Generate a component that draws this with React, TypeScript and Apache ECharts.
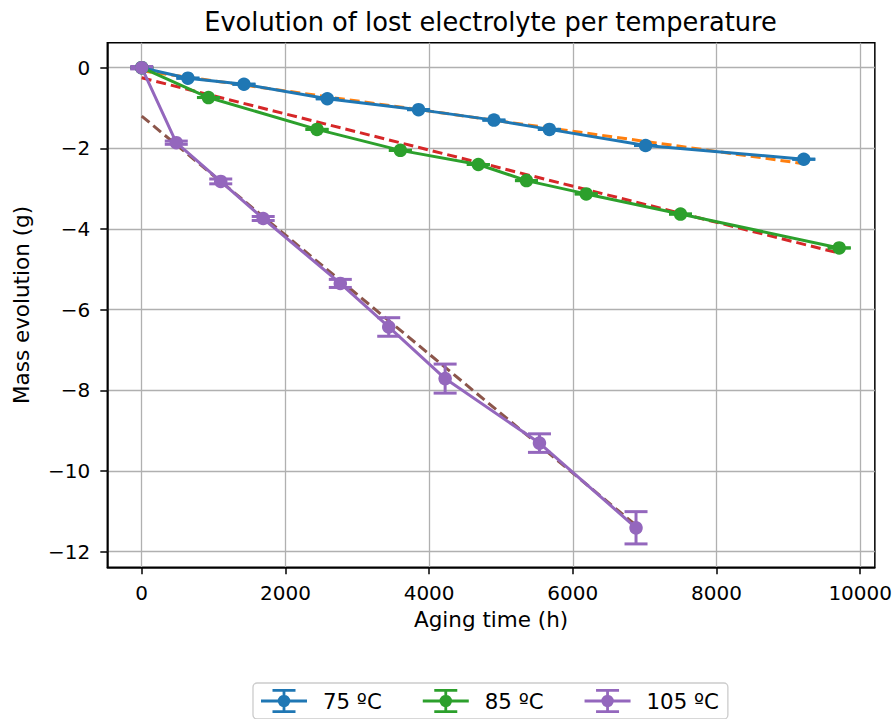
import React, { useEffect, useRef } from "react";
import * as echarts from "echarts";

// ---- data ----
const seriesNames = ["75 ºC", "85 ºC", "105 ºC"];

const x75 = [0, 643, 1423, 2583, 3853, 4902, 5674, 7013, 9215];
const y75 = [0, -0.26, -0.41, -0.77, -1.04, -1.3, -1.53, -1.93, -2.27];
const err75 = [0, 0, 0, 0, 0, 0, 0, 0, 0];

const x85 = [0, 929, 2440, 3600, 4685, 5355, 6187, 7499, 9708];
const y85 = [0, -0.74, -1.53, -2.05, -2.4, -2.8, -3.13, -3.63, -4.47];
const err85 = [0, 0, 0, 0, 0, 0, 0, 0, 0];

const x105 = [0, 481, 1100, 1691, 2764, 3438, 4223, 5536, 6880];
const y105 = [0, -1.86, -2.82, -3.74, -5.35, -6.43, -7.71, -9.31, -11.41];
const err105 = [0.03, 0.04, 0.06, 0.05, 0.1, 0.23, 0.36, 0.23, 0.4];

// linear fits (endpoints)
const fit75X = [0, 9215];
const fit75Y = [-0.076, -2.38];
const fit85X = [0, 9708];
const fit85Y = [-0.25, -4.6];
const fit105X = [0, 6880];
const fit105Y = [-1.2, -11.35];

const xTicks = [0, 2000, 4000, 6000, 8000, 10000];
const yTicks = [-12, -10, -8, -6, -4, -2, 0];

const titleText = "Evolution of lost electrolyte per temperature";
const xName = "Aging time (h)";
const yName = "Mass evolution (g)";

// ---- styling ----
const C_BLUE = "#1f77b4";
const C_ORANGE = "#ff7f0e";
const C_GREEN = "#2ca02c";
const C_RED = "#d62728";
const C_PURPLE = "#9467bd";
const C_BROWN = "#8c564b";
const FONT = "DejaVu Sans";
const LW = 3;

const legendIcon =
  "path://M0 10.6H46V13.4H0Z M21.6 0H24.4V24H21.6Z M11.5 0H34.5V2.8H11.5Z M11.5 21.2H34.5V24H11.5Z M16.8 12A6.2 6.2 0 1 1 29.2 12A6.2 6.2 0 1 1 16.8 12Z";

const pairs = (xs: number[], ys: number[]) => xs.map((x, i) => [x, ys[i]]);
const triples = (xs: number[], ys: number[], es: number[]) =>
  xs.map((x, i) => [x, ys[i], es[i]]);

const minusFmt = (v: number) => String(v).replace("-", "\u2212");

function errorSeries(name: string, color: string, data: number[][]) {
  return {
    type: "custom",
    name,
    data,
    encode: { x: 0, y: 1 },
    z: 3,
    itemStyle: { color },
    renderItem: (params: any, api: any) => {
      const x = api.value(0);
      const y = api.value(1);
      const e = api.value(2);
      const top = api.coord([x, y + e]);
      const bot = api.coord([x, y - e]);
      const hw = 11.5;
      const st = { stroke: color, lineWidth: LW, fill: null };
      return {
        type: "group",
        children: [
          { type: "line", shape: { x1: top[0], y1: top[1], x2: bot[0], y2: bot[1] }, style: st },
          { type: "line", shape: { x1: top[0] - hw, y1: top[1], x2: top[0] + hw, y2: top[1] }, style: st },
          { type: "line", shape: { x1: bot[0] - hw, y1: bot[1], x2: bot[0] + hw, y2: bot[1] }, style: st },
        ],
      };
    },
  };
}

function lineSeries(name: string, color: string, data: number[][]) {
  return {
    type: "line",
    name,
    data,
    symbol: "circle",
    symbolSize: 13.5,
    showSymbol: true,
    z: 3,
    lineStyle: { color, width: LW },
    itemStyle: { color },
    emphasis: { disabled: true },
  };
}

function fitSeries(name: string, color: string, data: number[][]) {
  return {
    type: "line",
    name,
    data,
    showSymbol: false,
    symbol: "none",
    z: 2,
    lineStyle: { color, width: LW, type: [10, 5] },
    itemStyle: { color },
    emphasis: { disabled: true },
  };
}

export default function App() {
  const ref = useRef<HTMLDivElement>(null);
  useEffect(() => {
    if (!ref.current) return;
    const chart = echarts.init(ref.current, null, { renderer: "svg" });
    chart.setOption({
      animation: false,
      backgroundColor: "#ffffff",
      textStyle: { fontFamily: FONT },
      graphic: [
        {
          type: "text",
          x: 490.5,
          y: 21.5,
          style: {
            text: titleText,
            fontSize: 25.7,
            fontFamily: FONT,
            fill: "#000",
            textAlign: "center",
            textVerticalAlign: "middle",
          },
        },
      ],
      grid: {
        left: 107.3,
        right: 18.3,
        top: 42.7,
        bottom: 151.7,
        show: true,
        borderColor: "#000",
        borderWidth: 1.5,
        backgroundColor: "transparent",
        containLabel: false,
      },
      legend: {
        data: seriesNames.map((n) => ({ name: n, icon: legendIcon })),
        left: 253,
        top: 683,
        padding: [6, 9, 6, 8],
        itemWidth: 46,
        itemHeight: 24,
        itemGap: 41,
        borderColor: "#cccccc",
        borderWidth: 1.3,
        borderRadius: 4,
        selectedMode: false,
        textStyle: { fontSize: 21.3, fontFamily: FONT, color: "#000", padding: [0, 0, 0, 11] },
      },
      xAxis: {
        type: "value",
        min: -479,
        max: 10204,
        name: xName,
        nameLocation: "middle",
        nameGap: 41,
        nameTextStyle: { fontSize: 21.5, fontFamily: FONT, color: "#000" },
        axisLine: { show: true, onZero: false, lineStyle: { color: "#000", width: 1.5 } },
        axisTick: { show: true, length: 7, lineStyle: { color: "#000", width: 1.5 }, customValues: xTicks },
        axisLabel: {
          fontSize: 20,
          fontFamily: FONT,
          color: "#000",
          margin: 16,
          customValues: xTicks,
          formatter: minusFmt,
        },
        splitLine: { show: true, lineStyle: { color: "#b0b0b0", width: 1.3 } },
      },
      yAxis: {
        type: "value",
        min: -12.39,
        max: 0.62,
        name: yName,
        nameLocation: "middle",
        nameGap: 75,
        nameTextStyle: { fontSize: 21.5, fontFamily: FONT, color: "#000" },
        axisLine: { show: true, onZero: false, lineStyle: { color: "#000", width: 1.5 } },
        axisTick: { show: true, length: 7, lineStyle: { color: "#000", width: 1.5 }, customValues: yTicks },
        axisLabel: {
          fontSize: 20,
          fontFamily: FONT,
          color: "#000",
          margin: 17,
          customValues: yTicks,
          formatter: minusFmt,
        },
        splitLine: { show: true, lineStyle: { color: "#b0b0b0", width: 1.3 } },
      },
      series: [
        fitSeries("fit 75", C_ORANGE, pairs(fit75X, fit75Y)),
        errorSeries(seriesNames[0], C_BLUE, triples(x75, y75, err75)),
        lineSeries(seriesNames[0], C_BLUE, pairs(x75, y75)),
        fitSeries("fit 85", C_RED, pairs(fit85X, fit85Y)),
        errorSeries(seriesNames[1], C_GREEN, triples(x85, y85, err85)),
        lineSeries(seriesNames[1], C_GREEN, pairs(x85, y85)),
        fitSeries("fit 105", C_BROWN, pairs(fit105X, fit105Y)),
        errorSeries(seriesNames[2], C_PURPLE, triples(x105, y105, err105)),
        lineSeries(seriesNames[2], C_PURPLE, pairs(x105, y105)),
      ],
    });
    return () => chart.dispose();
  }, []);
  return (
    <div
      ref={ref}
      style={{ position: "fixed", left: 0, top: 0, width: 895, height: 719, background: "#fff" }}
    />
  );
}
